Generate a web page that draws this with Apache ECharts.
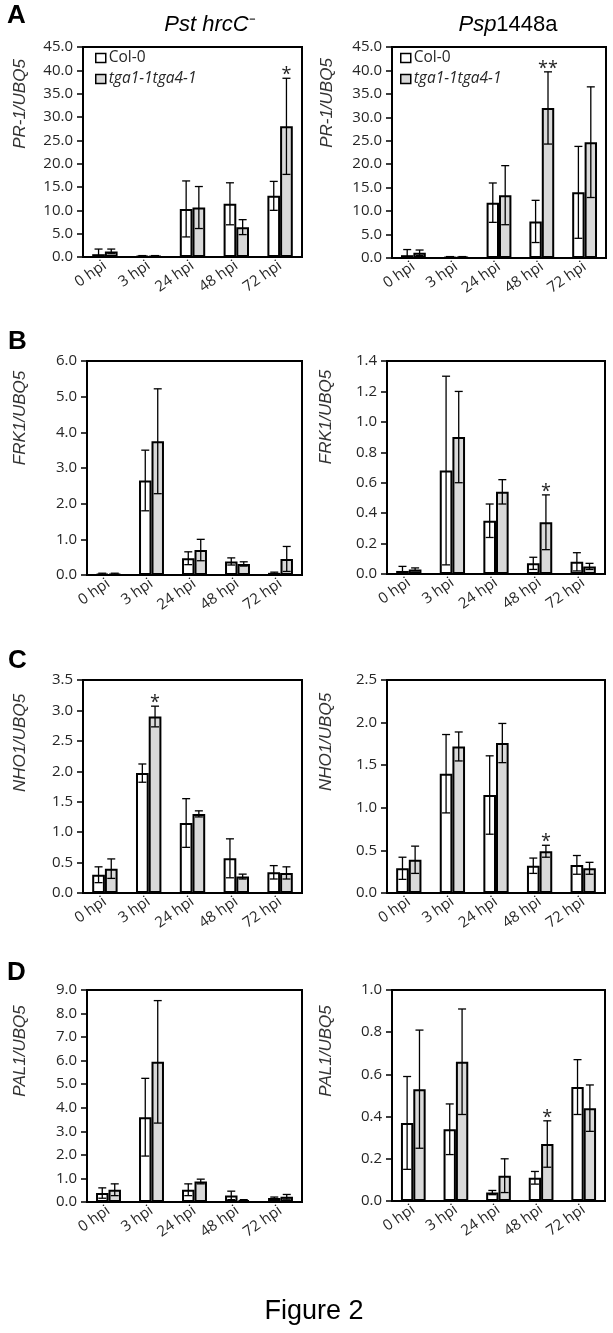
<!DOCTYPE html>
<html><head><meta charset="utf-8">
<script src="https://cdn.jsdelivr.net/npm/echarts@6/dist/echarts.min.js"></script>
<style>html,body{margin:0;padding:0;background:#fff}#c{width:613px;height:1333px}</style>
</head><body><div id="c"></div>
<script>
// ---- data ----
const categories = ['0 hpi', '3 hpi', '24 hpi', '48 hpi', '72 hpi'];
const seriesNames = ['Col-0', 'tga1-1tga4-1'];

// A left: PR-1, Pst hrcC-
const prPstCol = [0.6, 0.2, 10.3, 11.4, 13.1];
const prPstColErr = [1.1, 0.1, 6.0, 4.5, 3.1];
const prPstTga = [1.2, 0.2, 10.6, 6.4, 28.0];
const prPstTgaErr = [0.5, 0.1, 4.5, 1.6, 10.3];
const prPstSig = ['', '', '', '', '*'];
// A right: PR-1, Psp1448a
const prPspCol = [0.6, 0.2, 11.8, 7.8, 14.0];
const prPspColErr = [1.2, 0.1, 4.2, 4.5, 9.8];
const prPspTga = [1.1, 0.2, 13.4, 32.0, 24.7];
const prPspTgaErr = [0.6, 0.1, 6.3, 7.7, 11.8];
const prPspSig = ['', '', '', '**', ''];
// B left: FRK1, Pst hrcC-
const frkPstCol = [0.03, 2.65, 0.47, 0.38, 0.06];
const frkPstColErr = [0.02, 0.85, 0.18, 0.10, 0.02];
const frkPstTga = [0.03, 3.75, 0.70, 0.31, 0.45];
const frkPstTgaErr = [0.02, 1.47, 0.30, 0.06, 0.35];
const frkPstSig = ['', '', '', '', ''];
// B right: FRK1, Psp1448a
const frkPspCol = [0.02, 0.68, 0.35, 0.07, 0.08];
const frkPspColErr = [0.03, 0.62, 0.11, 0.04, 0.06];
const frkPspTga = [0.03, 0.90, 0.54, 0.34, 0.05];
const frkPspTgaErr = [0.01, 0.30, 0.08, 0.18, 0.02];
const frkPspSig = ['', '', '', '*', ''];
// C left: NHO1, Pst hrcC-
const nhoPstCol = [0.30, 1.97, 1.15, 0.57, 0.34];
const nhoPstColErr = [0.13, 0.15, 0.40, 0.32, 0.11];
const nhoPstTga = [0.40, 2.90, 1.30, 0.27, 0.33];
const nhoPstTgaErr = [0.16, 0.17, 0.05, 0.04, 0.10];
const nhoPstSig = ['', '*', '', '', ''];
// C right: NHO1, Psp1448a
const nhoPspCol = [0.29, 1.40, 1.15, 0.32, 0.33];
const nhoPspColErr = [0.13, 0.46, 0.46, 0.09, 0.11];
const nhoPspTga = [0.39, 1.72, 1.76, 0.49, 0.29];
const nhoPspTgaErr = [0.16, 0.17, 0.23, 0.07, 0.07];
const nhoPspSig = ['', '', '', '*', ''];
// D left: PAL1, Pst hrcC-
const palPstCol = [0.38, 3.60, 0.52, 0.28, 0.17];
const palPstColErr = [0.22, 1.65, 0.25, 0.18, 0.04];
const palPstTga = [0.52, 5.95, 0.87, 0.08, 0.22];
const palPstTgaErr = [0.25, 2.60, 0.10, 0.02, 0.10];
const palPstSig = ['', '', '', '', ''];
// D right: PAL1, Psp1448a
const palPspCol = [0.37, 0.34, 0.04, 0.11, 0.54];
const palPspColErr = [0.22, 0.12, 0.01, 0.03, 0.13];
const palPspTga = [0.53, 0.66, 0.12, 0.27, 0.44];
const palPspTgaErr = [0.28, 0.25, 0.08, 0.11, 0.11];
const palPspSig = ['', '', '', '*', ''];

// axis ranges (max, interval)
const prAxis = [45, 5];
const frkPstAxis = [6, 1];
const frkPspAxis = [1.4, 0.2];
const nhoPstAxis = [3.5, 0.5];
const nhoPspAxis = [2.5, 0.5];
const palPstAxis = [9, 1];
const palPspAxis = [1.0, 0.2];

const yNames = ['PR-1/UBQ5', 'FRK1/UBQ5', 'NHO1/UBQ5', 'PAL1/UBQ5'];
const panelLetters = ['A', 'B', 'C', 'D'];

// ---- layout ----
const FONT = '"Open Sans", Lato, sans-serif';
const ARIAL = '"Liberation Sans", Arial, sans-serif';
const GAP = 0.42;

const panels = [
  {g: {left: 83, top: 47, width: 219, height: 210}, ax: prAxis, col: prPstCol, colErr: prPstColErr, tga: prPstTga, tgaErr: prPstTgaErr, sig: prPstSig, yn: 0, nx: 20, ny: 104},
  {g: {left: 392, top: 47, width: 214, height: 211}, ax: prAxis, col: prPspCol, colErr: prPspColErr, tga: prPspTga, tgaErr: prPspTgaErr, sig: prPspSig, yn: 0, nx: 327, ny: 103},
  {g: {left: 87, top: 361, width: 215, height: 214}, ax: frkPstAxis, col: frkPstCol, colErr: frkPstColErr, tga: frkPstTga, tgaErr: frkPstTgaErr, sig: frkPstSig, yn: 1, nx: 20, ny: 418},
  {g: {left: 387, top: 361, width: 218, height: 213}, ax: frkPspAxis, col: frkPspCol, colErr: frkPspColErr, tga: frkPspTga, tgaErr: frkPspTgaErr, sig: frkPspSig, yn: 1, nx: 326, ny: 417},
  {g: {left: 83, top: 680, width: 219, height: 213}, ax: nhoPstAxis, col: nhoPstCol, colErr: nhoPstColErr, tga: nhoPstTga, tgaErr: nhoPstTgaErr, sig: nhoPstSig, yn: 2, nx: 20, ny: 743},
  {g: {left: 387, top: 680, width: 218, height: 213}, ax: nhoPspAxis, col: nhoPspCol, colErr: nhoPspColErr, tga: nhoPspTga, tgaErr: nhoPspTgaErr, sig: nhoPspSig, yn: 2, nx: 326, ny: 742},
  {g: {left: 87, top: 990, width: 215, height: 212}, ax: palPstAxis, col: palPstCol, colErr: palPstColErr, tga: palPstTga, tgaErr: palPstTgaErr, sig: palPstSig, yn: 3, nx: 20, ny: 1051},
  {g: {left: 392, top: 990, width: 213, height: 211}, ax: palPspAxis, col: palPspCol, colErr: palPspColErr, tga: palPspTga, tgaErr: palPspTgaErr, sig: palPspSig, yn: 3, nx: 326, ny: 1051}
];

function errSeries(pi, vals, errs, sig, side) {
  return {
    type: 'custom', xAxisIndex: pi, yAxisIndex: pi, z: 5, silent: true,
    data: vals.map((v, i) => [i, v, errs[i]]),
    renderItem: function (params, api) {
      const idx = api.value(0), v = api.value(1), e = api.value(2);
      const band = api.size([1, 0])[0];
      const bw = band * (1 - GAP) / 2;
      const cx = api.coord([idx, v])[0] + side * bw / 2;
      const yTop = api.coord([idx, v + e])[1];
      const yBot = api.coord([idx, Math.max(v - e, 0)])[1];
      const cw = 4;
      const ls = {stroke: '#000', lineWidth: 1.3};
      const children = [
        {type: 'line', shape: {x1: cx, y1: yTop, x2: cx, y2: yBot}, style: ls},
        {type: 'line', shape: {x1: cx - cw, y1: yTop, x2: cx + cw, y2: yTop}, style: ls},
        {type: 'line', shape: {x1: cx - cw, y1: yBot, x2: cx + cw, y2: yBot}, style: ls}
      ];
      const s = sig[params.dataIndex];
      if (s) {
        children.push({type: 'text', x: cx, y: yTop + 6,
          style: {text: s, fill: '#222', font: '18px ' + FONT, align: 'center', verticalAlign: 'bottom', textAlign: 'center', textVerticalAlign: 'bottom'}});
      }
      return {type: 'group', children: children};
    }
  };
}

const grid = [], xAxis = [], yAxis = [], series = [], graphic = [];
panels.forEach((p, pi) => {
  grid.push(Object.assign({show: true, borderColor: '#000', borderWidth: 2, backgroundColor: '#fff'}, p.g));
  xAxis.push({
    type: 'category', gridIndex: pi, data: categories,
    axisTick: {show: false},
    axisLine: {lineStyle: {color: '#000', width: 2}},
    axisLabel: {rotate: 35, interval: 0, fontSize: 15, color: '#262626', fontFamily: FONT, margin: 7}
  });
  yAxis.push({
    type: 'value', gridIndex: pi, min: 0, max: p.ax[0], interval: p.ax[1],
    splitLine: {show: false},
    axisLine: {show: true, lineStyle: {color: '#000', width: 2}},
    axisTick: {show: true, length: 6, lineStyle: {color: '#000', width: 1.5}},
    axisLabel: {fontSize: 15, color: '#262626', fontFamily: FONT, margin: 10, formatter: v => v.toFixed(1)}
  });
  series.push({
    name: seriesNames[0], type: 'bar', xAxisIndex: pi, yAxisIndex: pi, data: p.col,
    barGap: '0%', barCategoryGap: (GAP * 100) + '%',
    itemStyle: {color: '#ffffff', borderColor: '#000', borderWidth: 2}
  });
  series.push({
    name: seriesNames[1], type: 'bar', xAxisIndex: pi, yAxisIndex: pi, data: p.tga,
    barGap: '0%', barCategoryGap: (GAP * 100) + '%',
    itemStyle: {color: '#d9d9d9', borderColor: '#000', borderWidth: 2}
  });
  series.push(errSeries(pi, p.col, p.colErr, p.col.map(() => ''), -1));
  series.push(errSeries(pi, p.tga, p.tgaErr, p.sig, 1));
  graphic.push({type: 'text', x: p.nx, y: p.ny, rotation: Math.PI / 2,
    style: {text: yNames[p.yn], fill: '#333', font: 'italic 17px ' + ARIAL, align: 'center', verticalAlign: 'middle', textAlign: 'center', textVerticalAlign: 'middle'}});
});

const letterPos = [[7, 16], [8, 342], [8, 661], [7, 973]];
panelLetters.forEach((l, i) => {
  graphic.push({type: 'text', x: letterPos[i][0], y: letterPos[i][1],
    style: {text: l, fill: '#000', font: 'bold 26px ' + ARIAL, align: 'left', verticalAlign: 'middle', textAlign: 'left', textVerticalAlign: 'middle'}});
});
graphic.push({type: 'text', x: 210, y: 25,
  style: {text: '{i|Pst hrcC}{s|\u207B}', fill: '#000', align: 'center', verticalAlign: 'middle', textAlign: 'center', textVerticalAlign: 'middle',
    rich: {i: {fontStyle: 'italic', fontSize: 22, fontFamily: ARIAL, fill: '#000'}, s: {fontSize: 20, fontFamily: ARIAL, fill: '#000'}}}});
graphic.push({type: 'text', x: 508, y: 25,
  style: {text: '{i|Psp}{n|1448a}', fill: '#000', align: 'center', verticalAlign: 'middle', textAlign: 'center', textVerticalAlign: 'middle',
    rich: {i: {fontStyle: 'italic', fontSize: 22, fontFamily: ARIAL, fill: '#000'}, n: {fontSize: 22, fontFamily: ARIAL, fill: '#000'}}}});
graphic.push({type: 'text', x: 314, y: 1312,
  style: {text: 'Figure 2', fill: '#000', font: '27px ' + ARIAL, align: 'center', verticalAlign: 'middle', textAlign: 'center', textVerticalAlign: 'middle'}});

const legendCommon = {
  orient: 'vertical', itemWidth: 10, itemHeight: 9, itemGap: 5, selectedMode: false,
  icon: 'rect', data: seriesNames,
  formatter: n => n === 'Col-0' ? n : '{i|' + n + '}',
  textStyle: {fontSize: 15.5, lineHeight: 16, color: '#262626', fontFamily: FONT, padding: [0, 0, 0, -2],
    rich: {i: {fontStyle: 'italic', fontSize: 15.5, lineHeight: 16, fontFamily: FONT, color: '#262626'}}},
  itemStyle: {borderWidth: 1.5, borderColor: '#000'}
};

const chart = echarts.init(document.getElementById('c'), null, {renderer: 'canvas'});
chart.setOption({
  animation: false,
  backgroundColor: '#fff',
  grid, xAxis, yAxis, series, graphic,
  legend: [
    Object.assign({left: 95, top: 50, padding: 0}, legendCommon),
    Object.assign({left: 400, top: 50, padding: 0}, legendCommon)
  ]
});
</script></body></html>
